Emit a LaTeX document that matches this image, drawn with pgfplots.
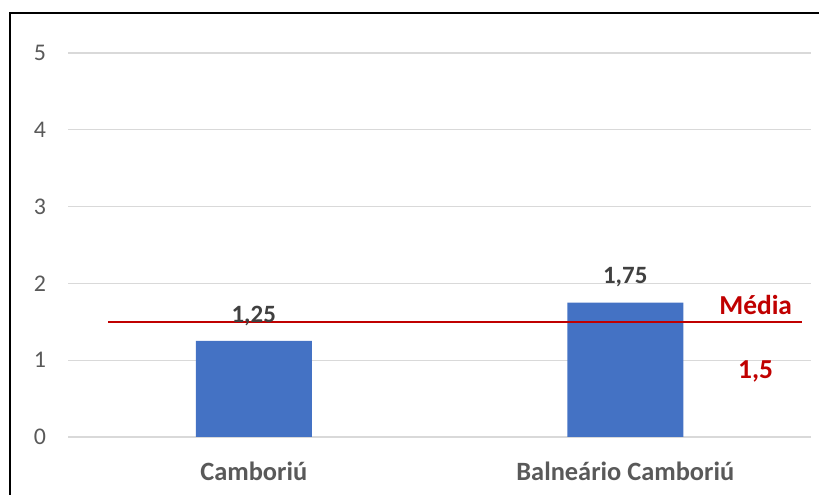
\documentclass[border=0pt]{standalone}
\usepackage{fontspec}
\setmainfont{Carlito}
\usepackage{pgfplots}
\pgfplotsset{compat=1.18}
\definecolor{barblue}{HTML}{4472C4}
\definecolor{gridgray}{HTML}{D9D9D9}
\definecolor{txtgray}{HTML}{595959}
\definecolor{lblgray}{HTML}{404040}
\definecolor{mred}{HTML}{C00000}
\begin{document}
\begin{tikzpicture}[x=1bp,y=1bp]
\useasboundingbox (0,0) rectangle (819,495);
\draw[line width=2.5bp,line cap=rect] (10,-5) -- (10,482) -- (825,482);
\begin{axis}[
  at={(68bp,58bp)}, anchor=south west,
  scale only axis, width=743bp, height=384bp,
  xmin=-0.5, xmax=1.5, ymin=0, ymax=5,
  ytick={0,1,2,3,4,5},
  xtick={0,1}, xticklabels={Camboriú, Balneário Camboriú},
  ymajorgrids, grid style={gridgray, line width=1.2bp},
  axis line style={draw=none}, tick style={draw=none},
  /pgf/number format/assume math mode=true,
  y tick label style={font=\fontsize{24}{28}\selectfont, text=txtgray, anchor=center, xshift=-28bp},
  x tick label style={font=\bfseries\fontsize{26.5}{30}\selectfont, text=txtgray, anchor=base, yshift=-44bp},
  clip=false,
]
\addplot[ybar, bar width=116bp, fill=barblue, draw=none,
  nodes near coords,
  nodes near coords style={font=\bfseries\fontsize{25}{29}\selectfont, text=lblgray, anchor=center, yshift=25bp,
    /pgf/number format/.cd, use comma, fixed, fixed zerofill, precision=2},
] coordinates {(0,1.25) (1,1.75)};
\addplot[sharp plot, color=mred, solid, line width=1.5bp, mark=none] coordinates {(-0.393,1.5) (1.475,1.5)};
\node[font=\bfseries\fontsize{27.5}{32}\selectfont, text=mred] at (axis cs:1.351,1.72) {Média};
\node[font=\bfseries\fontsize{27.5}{32}\selectfont, text=mred] at (axis cs:1.351,0.85) {1,5};
\end{axis}
\end{tikzpicture}
\end{document}
